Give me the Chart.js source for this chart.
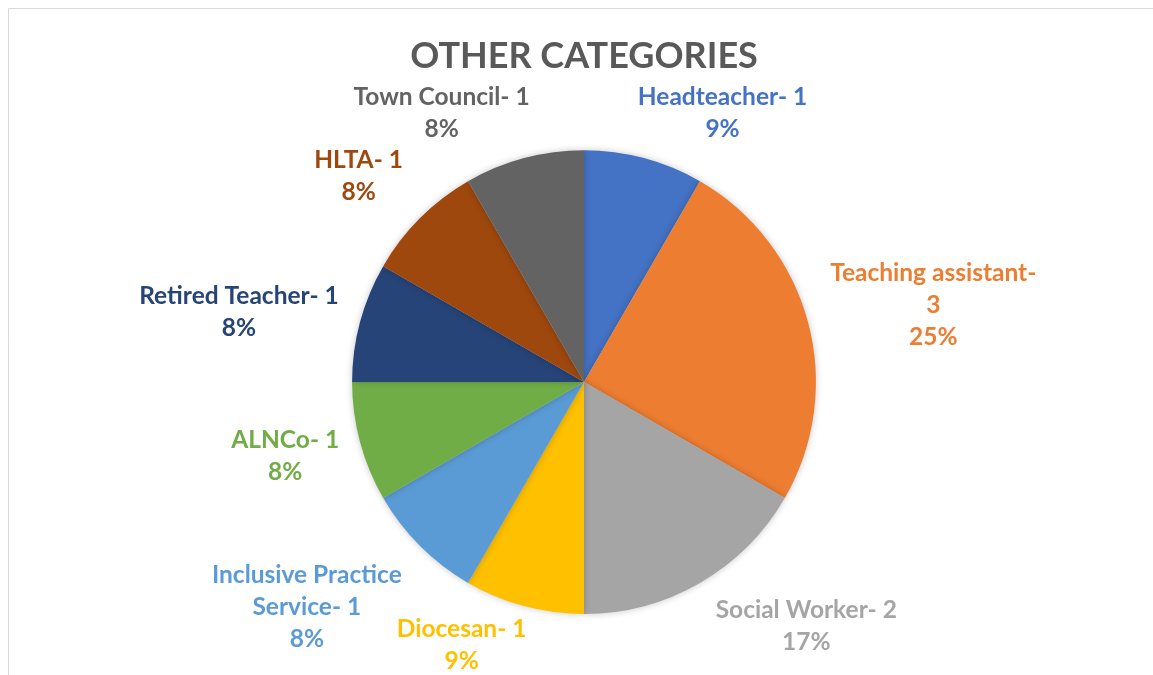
<!DOCTYPE html>
<html>
<head>
<meta charset="utf-8">
<script src="https://cdn.jsdelivr.net/npm/chart.js@4.4.1/dist/chart.umd.min.js"></script>
<style>
  html,body{margin:0;padding:0;background:#fff;}
  #wrap{width:1153px;height:675px;position:relative;}
</style>
</head>
<body>
<div id="wrap"><canvas id="pie" width="1153" height="675"></canvas></div>
<script>
// ================== Data ==================
const categories = ["Headteacher","Teaching assistant","Social Worker","Diocesan","Inclusive Practice Service","ALNCo","Retired Teacher","HLTA","Town Council"];
const counts = [1,3,2,1,1,1,1,1,1];
const percentLabels = ["9%","25%","17%","9%","8%","8%","8%","8%","8%"];
const sliceColors = ["#4472C4","#ED7D31","#A5A5A5","#FFC000","#5B9BD5","#70AD47","#264478","#9E480E","#636363"];

// label nudges (px) from the automatic outside position
const labelNudge = [[54,-4],[16,-2],[56,7],[-43,-2],[-39,20],[-13,3],[-15,1],[-23,-12],[-57,-4]];

const LABEL_FONT = "bold 24.5px Lato";
const LINE_H = 32;
const WRAP_W = 210;

function wrapLabel(ctx,text){
  const words=text.split(" ");
  const lines=[];let cur="";
  words.forEach(w=>{
    const test=cur?cur+" "+w:w;
    if(cur&&ctx.measureText(test).width>WRAP_W){lines.push(cur);cur=w;}
    else cur=test;
  });
  if(cur)lines.push(cur);
  return lines;
}

// =============== frame ===============
const framePlugin={
  id:"frame",
  beforeDraw(chart){
    const ctx=chart.ctx;
    ctx.save();
    ctx.strokeStyle="#d9d9d9";ctx.lineWidth=1;
    ctx.beginPath();
    ctx.moveTo(8.5,chart.height);ctx.lineTo(8.5,8.5);ctx.lineTo(chart.width,8.5);
    ctx.stroke();
    ctx.restore();
  }
};

// =============== soft shadow under pie ===============
const shadowPlugin={
  id:"pieShadow",
  beforeDatasetsDraw(chart){
    const ctx=chart.ctx;
    ctx.save();
    ctx.shadowColor="rgba(0,0,0,0.22)";
    ctx.shadowBlur=7;
  },
  afterDatasetsDraw(chart){chart.ctx.restore();}
};

// =============== outside labels ===============
const labelPlugin={
  id:"outLabels",
  afterDraw(chart){
    const ctx=chart.ctx;
    const meta=chart.getDatasetMeta(0);
    ctx.save();
    ctx.font=LABEL_FONT;
    ctx.textAlign="center";
    ctx.textBaseline="middle";
    meta.data.forEach((arc,i)=>{
      const p=arc.getProps(["x","y","startAngle","endAngle","outerRadius"],true);
      const mid=(p.startAngle+p.endAngle)/2;
      const ux=Math.cos(mid),uy=Math.sin(mid);
      const lines=wrapLabel(ctx,categories[i]+"- "+counts[i]);
      lines.push(percentLabels[i]);
      const w=Math.max(...lines.map(l=>ctx.measureText(l).width));
      const h=lines.length*LINE_H;
      const ax=p.x+ux*(p.outerRadius+10),ay=p.y+uy*(p.outerRadius+10);
      const cx=ax+ux*w/2+labelNudge[i][0];
      const cy=ay+uy*h/2+labelNudge[i][1];
      ctx.fillStyle=sliceColors[i];
      lines.forEach((l,k)=>{
        ctx.fillText(l,cx,cy-h/2+LINE_H/2+k*LINE_H);
      });
    });
    ctx.restore();
  }
};

new Chart(document.getElementById("pie"),{
  type:"pie",
  data:{
    labels:categories,
    datasets:[{data:counts,backgroundColor:sliceColors,borderWidth:0,hoverOffset:0}]
  },
  options:{
    responsive:false,
    animation:false,
    layout:{padding:{top:14,bottom:61,left:15,right:0}},
    plugins:{
      legend:{display:false},
      tooltip:{enabled:false},
      title:{
        display:true,
        text:"OTHER CATEGORIES",
        color:"#595959",
        font:{family:"Lato",size:36,weight:"bold",lineHeight:1.2},
        padding:{top:21,bottom:72}
      }
    }
  },
  plugins:[framePlugin,shadowPlugin,labelPlugin]
});
</script>
</body>
</html>
